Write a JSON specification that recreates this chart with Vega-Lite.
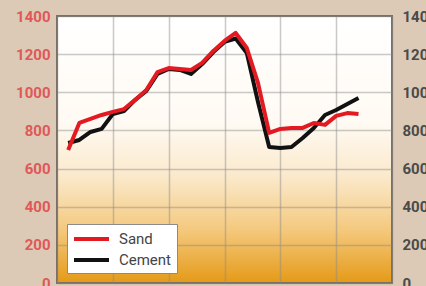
{
  "$schema": "https://vega.github.io/schema/vega-lite/v6.json",
  "autosize": {"type": "none"},
  "padding": {"left": 57, "top": 16, "right": 34, "bottom": 3},
  "width": 335,
  "height": 267,
  "background": "#dccab6",
  "config": {
    "view": {
      "stroke": "#7a6e64",
      "strokeWidth": 2,
      "fill": {
        "gradient": "linear",
        "x1": 0, "y1": 0, "x2": 0, "y2": 1,
        "stops": [
          {"offset": 0, "color": "#ffffff"},
          {"offset": 0.4, "color": "#fffaf3"},
          {"offset": 0.6, "color": "#fbe9cc"},
          {"offset": 0.8, "color": "#f4c97e"},
          {"offset": 1, "color": "#e59a17"}
        ]
      }
    },
    "font": "Roboto"
  },
  "data": {
    "values": [
      {"i": 1, "series": "Cement", "v": 734},
      {"i": 2, "series": "Cement", "v": 750},
      {"i": 3, "series": "Cement", "v": 792},
      {"i": 4, "series": "Cement", "v": 808},
      {"i": 5, "series": "Cement", "v": 886},
      {"i": 6, "series": "Cement", "v": 902},
      {"i": 7, "series": "Cement", "v": 960},
      {"i": 8, "series": "Cement", "v": 1007},
      {"i": 9, "series": "Cement", "v": 1096},
      {"i": 10, "series": "Cement", "v": 1122},
      {"i": 11, "series": "Cement", "v": 1117},
      {"i": 12, "series": "Cement", "v": 1096},
      {"i": 13, "series": "Cement", "v": 1148},
      {"i": 14, "series": "Cement", "v": 1211},
      {"i": 15, "series": "Cement", "v": 1264},
      {"i": 16, "series": "Cement", "v": 1282},
      {"i": 17, "series": "Cement", "v": 1206},
      {"i": 18, "series": "Cement", "v": 949},
      {"i": 19, "series": "Cement", "v": 713},
      {"i": 20, "series": "Cement", "v": 708},
      {"i": 21, "series": "Cement", "v": 713},
      {"i": 22, "series": "Cement", "v": 760},
      {"i": 23, "series": "Cement", "v": 813},
      {"i": 24, "series": "Cement", "v": 881},
      {"i": 25, "series": "Cement", "v": 907},
      {"i": 26, "series": "Cement", "v": 939},
      {"i": 27, "series": "Cement", "v": 970},
      {"i": 1, "series": "Sand", "v": 697},
      {"i": 2, "series": "Sand", "v": 839},
      {"i": 3, "series": "Sand", "v": 860},
      {"i": 4, "series": "Sand", "v": 881},
      {"i": 5, "series": "Sand", "v": 897},
      {"i": 6, "series": "Sand", "v": 912},
      {"i": 7, "series": "Sand", "v": 960},
      {"i": 8, "series": "Sand", "v": 1012},
      {"i": 9, "series": "Sand", "v": 1106},
      {"i": 10, "series": "Sand", "v": 1127},
      {"i": 11, "series": "Sand", "v": 1122},
      {"i": 12, "series": "Sand", "v": 1117},
      {"i": 13, "series": "Sand", "v": 1154},
      {"i": 14, "series": "Sand", "v": 1217},
      {"i": 15, "series": "Sand", "v": 1269},
      {"i": 16, "series": "Sand", "v": 1311},
      {"i": 17, "series": "Sand", "v": 1232},
      {"i": 18, "series": "Sand", "v": 1049},
      {"i": 19, "series": "Sand", "v": 787},
      {"i": 20, "series": "Sand", "v": 808},
      {"i": 21, "series": "Sand", "v": 813},
      {"i": 22, "series": "Sand", "v": 813},
      {"i": 23, "series": "Sand", "v": 839},
      {"i": 24, "series": "Sand", "v": 829},
      {"i": 25, "series": "Sand", "v": 876},
      {"i": 26, "series": "Sand", "v": 891},
      {"i": 27, "series": "Sand", "v": 886}
    ]
  },
  "layer": [
    {
      "mark": {"type": "line", "strokeWidth": 4, "strokeJoin": "round"},
      "encoding": {
        "x": {
          "field": "i", "type": "quantitative",
          "scale": {"domain": [0, 30], "nice": false, "zero": false},
          "axis": {"values": [0, 5, 10, 15, 20, 25, 30], "labels": false, "ticks": false, "domain": false, "title": null, "gridColor": "#8a8a8a", "gridOpacity": 0.45, "gridWidth": 1.5}
        },
        "y": {
          "field": "v", "type": "quantitative",
          "scale": {"domain": [0, 1400], "nice": false},
          "axis": {"orient": "left", "values": [0, 200, 400, 600, 800, 1000, 1200, 1400], "format": "d", "ticks": false, "domain": false, "title": null, "labelColor": "#e05858", "labelFontSize": 15, "labelFontWeight": "bold", "labelPadding": 7, "gridColor": "#8a8a8a", "gridOpacity": 0.45, "gridWidth": 1.5}
        },
        "color": {
          "field": "series", "type": "nominal",
          "scale": {"domain": ["Sand", "Cement"], "range": ["#e41a22", "#111111"]},
          "legend": {
            "title": null, "orient": "bottom-left", "offset": 10,
            "fillColor": "#ffffff", "strokeColor": "#8a8a8a", "padding": 5,
            "symbolType": "M-1,0H3.375", "symbolSize": 256, "symbolStrokeWidth": 4,
            "labelFontSize": 15, "labelColor": "#444444", "rowPadding": 3, "labelOffset": 27
          }
        },
        "detail": {"field": "series"}
      }
    },
    {
      "mark": {"type": "point", "opacity": 0},
      "encoding": {
        "x": {"field": "i", "type": "quantitative"},
        "y": {
          "field": "v", "type": "quantitative",
          "axis": {"orient": "right", "values": [0, 200, 400, 600, 800, 1000, 1200, 1400], "format": "d", "ticks": false, "domain": false, "grid": false, "title": null, "labelColor": "#4a4a4a", "labelFontSize": 15, "labelFontWeight": "bold", "labelPadding": 10}
        }
      }
    }
  ],
  "resolve": {"axis": {"y": "independent"}}
}
